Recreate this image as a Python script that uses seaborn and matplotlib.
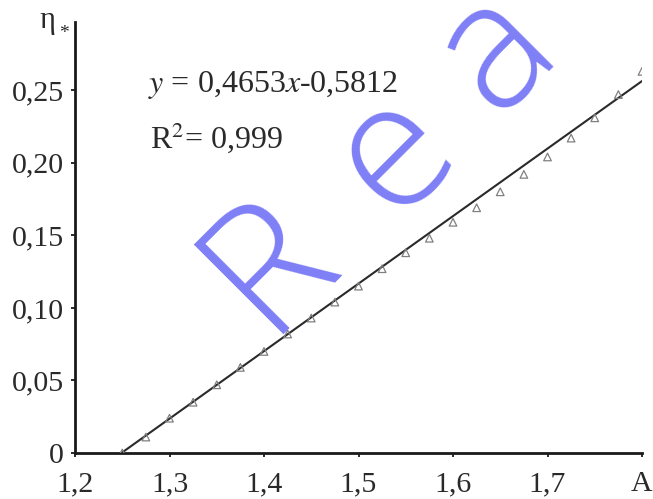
import matplotlib
matplotlib.use("Agg")
import matplotlib.pyplot as plt
import seaborn as sns
import pandas as pd

# measured points (triangles)
a_values = [1.25, 1.275, 1.3, 1.325, 1.35, 1.375, 1.4, 1.425, 1.45, 1.475, 1.5, 1.525,
            1.55, 1.575, 1.6, 1.625, 1.65, 1.675, 1.7, 1.725, 1.75, 1.775, 1.8]
eta_values = [0.000, 0.011, 0.024, 0.035, 0.047, 0.059, 0.070, 0.082, 0.093, 0.104, 0.115, 0.127,
              0.138, 0.148, 0.159, 0.169, 0.180, 0.192, 0.204, 0.217, 0.231, 0.247, 0.263]

# trend line end points
fit_x = [1.25, 1.80]
fit_y = [0.0004, 0.2563]

x_ticks = [1.2, 1.3, 1.4, 1.5, 1.6, 1.7, 1.8]
x_labels = ['1,2', '1,3', '1,4', '1,5', '1,6', '1,7', 'A']
y_ticks = [0, 0.05, 0.10, 0.15, 0.20, 0.25]
y_labels = ['0', '0,05', '0,10', '0,15', '0,20', '0,25']

equation = r'$y$ = 0,4653$x$-0,5812'
r_squared = r'R$^2$= 0,999'
watermark = ['R', 'e', 'a']

sns.set_style("ticks")
plt.rcParams['font.family'] = ['Liberation Serif', 'DejaVu Serif']
plt.rcParams['mathtext.fontset'] = 'stix'

W, H = 653, 499
fig = plt.figure(figsize=(6.53, 4.99), dpi=100)
ax = fig.add_axes([75 / W, 1 - 453 / H, (642 - 75) / W, (453 - 22) / H])

points = pd.DataFrame({'A': a_values, 'eta': eta_values})
fit = pd.DataFrame({'A': fit_x, 'eta': fit_y})

sns.lineplot(data=fit, x='A', y='eta', color='#2a2a2a', linewidth=1.5, ax=ax, zorder=3)
sns.scatterplot(data=points, x='A', y='eta', marker='^', s=30, facecolor='none',
                edgecolor='#808080', linewidth=0.9, ax=ax, zorder=4)

ax.set_xlim(1.2, 1.8)
ax.set_ylim(0, 0.297)
ax.set_xticks(x_ticks)
ax.set_xticklabels(x_labels)
ax.set_yticks(y_ticks)
ax.set_yticklabels(y_labels)
ax.set_xlabel('')
ax.set_ylabel('')
sns.despine(ax=ax)
for side in ['left', 'bottom']:
    ax.spines[side].set_linewidth(2.0)
    ax.spines[side].set_color('#1a1a1a')
ax.tick_params(axis='both', labelsize=21.5, length=3, width=1.3, colors='#1a1a1a',
               labelcolor='#2a2a2a')
ax.tick_params(axis='x', pad=10)
ax.tick_params(axis='y', pad=5)

ax.text(1.277, 0.249, equation, fontsize=23, color='#2a2a2a', va='baseline')
ax.text(1.279, 0.210, r_squared, fontsize=23, color='#2a2a2a', va='baseline')

# axis name in the top-left corner
fig.text(39 / W, 1 - 28 / H, 'η', fontsize=22, color='#2a2a2a', va='baseline')
fig.text(59 / W, 1 - 38 / H, '*', fontsize=14, color='#2a2a2a', va='baseline')

# watermark, letters set one by one along a 45 degree baseline (pixels from top-left)
start_x, start_y = 266, 334
for letter, dist in zip(watermark, [0, 170, 316]):
    px = start_x + dist * 0.7071 + (6 if letter != 'R' else 0)
    py = start_y - dist * 0.7071 + (6 if letter != 'R' else 0)
    fig.text(px / W, 1 - py / H, letter, rotation=45, rotation_mode='anchor',
             fontsize=128, color='#7f7ff6', family='Open Sans', fontweight='light',
             ha='left', va='baseline', zorder=10)

fig.savefig('out.png', dpi=100)
